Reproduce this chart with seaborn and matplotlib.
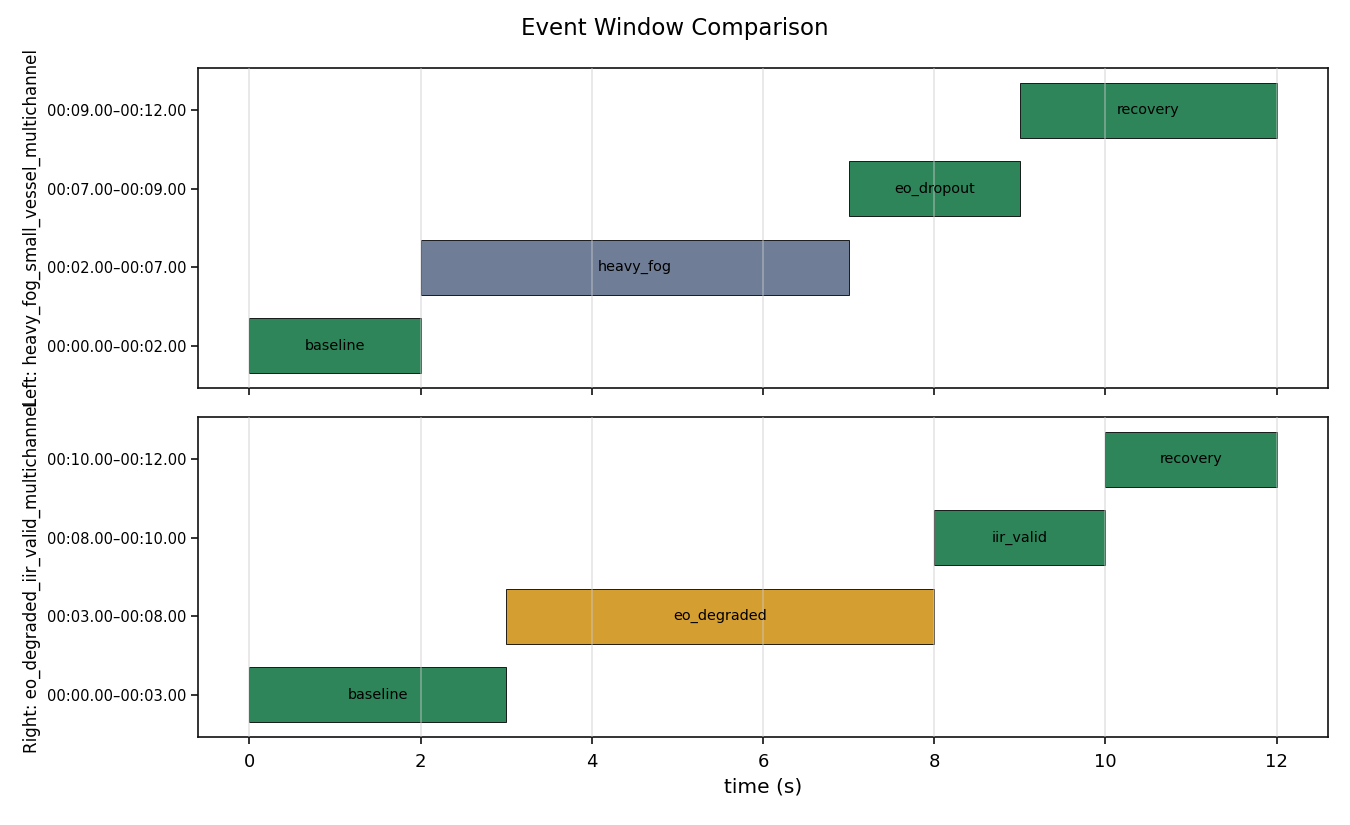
import matplotlib
matplotlib.use("Agg")
import matplotlib.pyplot as plt
import seaborn as sns

# Top panel (Left)
left_labels = ["baseline", "heavy_fog", "eo_dropout", "recovery"]
left_start = [0, 2, 7, 9]
left_end = [2, 7, 9, 12]
left_ticks = ["00:00.00\u201300:02.00", "00:02.00\u201300:07.00",
              "00:07.00\u201300:09.00", "00:09.00\u201300:12.00"]
left_colors = ["#2e855a", "#6f7e96", "#2e855a", "#2e855a"]

# Bottom panel (Right)
right_labels = ["baseline", "eo_degraded", "iir_valid", "recovery"]
right_start = [0, 3, 8, 10]
right_end = [3, 8, 10, 12]
right_ticks = ["00:00.00\u201300:03.00", "00:03.00\u201300:08.00",
               "00:08.00\u201300:10.00", "00:10.00\u201300:12.00"]
right_colors = ["#2e855a", "#d49e30", "#2e855a", "#2e855a"]

sns.reset_orig()
plt.rcParams["font.family"] = ["DejaVu Sans"]

fig, axes = plt.subplots(2, 1, figsize=(13.5, 8.25), dpi=100, sharex=True)
fig.subplots_adjust(left=0.1467, right=0.9837, top=0.9176, bottom=0.1067, hspace=0.092)

panels = [
    (axes[0], left_labels, left_start, left_end, left_ticks, left_colors,
     "Left: heavy_fog_small_vessel_multichannel"),
    (axes[1], right_labels, right_start, right_end, right_ticks, right_colors,
     "Right: eo_degraded_iir_valid_multichannel"),
]

for ax, labels, starts, ends, ticks, colors, ylab in panels:
    ax.use_sticky_edges = False
    ypos = list(range(len(labels)))
    widths = [e - s for s, e in zip(starts, ends)]
    ax.barh(ypos, widths, left=starts, height=0.7, color=colors,
            edgecolor="black", linewidth=0.6, zorder=1)
    for y, s, w, lab in zip(ypos, starts, widths, labels):
        ax.text(s + w / 2, y, lab, ha="center", va="center", fontsize=10.4,
                color="black", zorder=3)
    ax.set_yticks(ypos)
    ax.set_yticklabels(ticks, fontsize=10.6)
    ax.set_ylabel(ylab, fontsize=12)
    ax.grid(axis="x", color="#cccccc", alpha=0.5, linewidth=1.2, zorder=2)
    ax.set_axisbelow(False)
    ax.margins(x=0.05, y=0.05)
    for sp in ax.spines.values():
        sp.set_color("#111111")
        sp.set_linewidth(1.2)
    ax.tick_params(axis="both", which="major", length=5, width=1.2, color="#111111")
    ax.tick_params(axis="x", labelsize=13, pad=6.5)

axes[1].set_xticks([0, 2, 4, 6, 8, 10, 12])
axes[1].set_xlabel("time (s)", fontsize=14.5, labelpad=5)
fig.suptitle("Event Window Comparison", fontsize=16.5, y=0.98)

fig.savefig("out.png", dpi=100)
